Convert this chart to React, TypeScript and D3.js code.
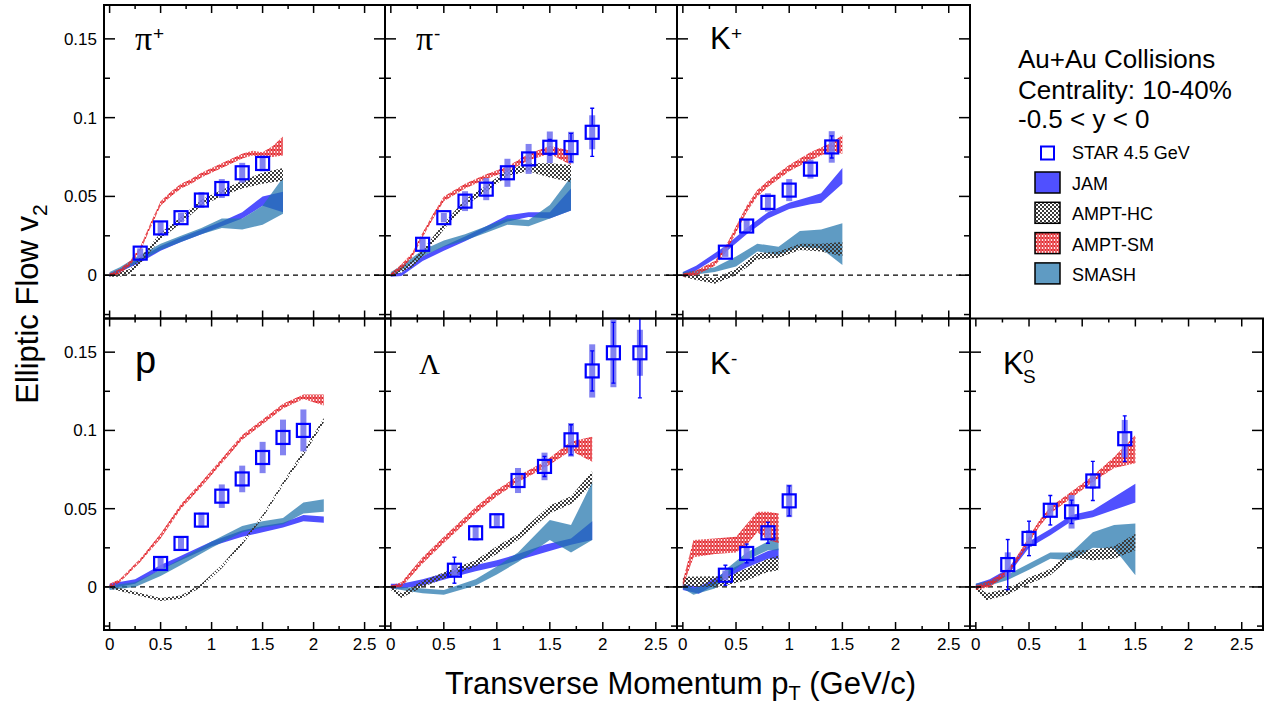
import React from "react";
import * as d3 from "d3";

type Band = [number, number, number][]; // [pT, low, high]

// ---------- STAR 4.5 GeV points ----------
const piPlusX = [0.3, 0.5, 0.7, 0.9, 1.1, 1.3, 1.5];
const piPlusV2 = [0.014, 0.03, 0.0365, 0.0477, 0.055, 0.065, 0.0709];
const piPlusStat = [0.001, 0.001, 0.0012, 0.0015, 0.002, 0.0025, 0.004];
const piPlusSys = [0.003, 0.0037, 0.003, 0.005, 0.006, 0.0063, 0.005];

const piMinusX = [0.3, 0.5, 0.7, 0.9, 1.1, 1.3, 1.5, 1.7, 1.9];
const piMinusV2 = [0.0196, 0.0365, 0.047, 0.0546, 0.065, 0.0738, 0.0812, 0.081, 0.0907];
const piMinusStat = [0.001, 0.0012, 0.0015, 0.002, 0.0025, 0.003, 0.005, 0.009, 0.0153];
const piMinusSys = [0.0037, 0.003, 0.0063, 0.007, 0.0089, 0.0095, 0.01, 0.01, 0.0108];

const kPlusX = [0.4, 0.6, 0.8, 1.0, 1.2, 1.4];
const kPlusV2 = [0.0146, 0.0312, 0.0462, 0.054, 0.0673, 0.0814];
const kPlusStat = [0.001, 0.0015, 0.002, 0.0025, 0.004, 0.007];
const kPlusSys = [0.003, 0.004, 0.0058, 0.007, 0.006, 0.01];

const protonX = [0.5, 0.7, 0.9, 1.1, 1.3, 1.5, 1.7, 1.9];
const protonV2 = [0.015, 0.0278, 0.0427, 0.058, 0.069, 0.0827, 0.0955, 0.1];
const protonStat = [0.0008, 0.001, 0.0012, 0.0015, 0.002, 0.002, 0.0025, 0.003];
const protonSys = [0.0035, 0.0035, 0.0048, 0.0075, 0.0085, 0.01, 0.0114, 0.0134];

const lambdaX = [0.6, 0.8, 1.0, 1.2, 1.45, 1.7, 1.9, 2.1, 2.35];
const lambdaV2 = [0.0107, 0.0346, 0.0423, 0.068, 0.077, 0.094, 0.138, 0.1496, 0.1496];
const lambdaStat = [0.0083, 0.002, 0.002, 0.004, 0.0064, 0.0096, 0.0128, 0.0194, 0.0288];
const lambdaSys = [0.004, 0.005, 0.0046, 0.008, 0.0088, 0.0107, 0.017, 0.022, 0.0147];

const kMinusX = [0.4, 0.6, 0.8, 1.0];
const kMinusV2 = [0.0075, 0.0214, 0.0346, 0.055];
const kMinusStat = [0.0064, 0.006, 0.0067, 0.0096];
const kMinusSys = [0.003, 0.0037, 0.0043, 0.0104];

const kShortX = [0.3, 0.5, 0.7, 0.9, 1.1, 1.4];
const kShortV2 = [0.0143, 0.031, 0.049, 0.048, 0.0677, 0.0947];
const kShortStat = [0.016, 0.011, 0.0094, 0.0075, 0.0125, 0.0146];
const kShortSys = [0.0078, 0.0053, 0.004, 0.0107, 0.005, 0.012];

// ---------- model bands ----------
const piPlusJam: Band = [[0, -0.001, 0.001], [0.1, 0.002, 0.004], [0.3, 0.008, 0.011], [0.5, 0.0155, 0.0185], [0.7, 0.021, 0.024], [0.9, 0.026, 0.029], [1.1, 0.031, 0.034], [1.3, 0.036, 0.04], [1.5, 0.044, 0.05], [1.7, 0.04, 0.053]];
const piPlusSmash: Band = [[0, -0.001, 0.002], [0.1, 0.002, 0.005], [0.3, 0.009, 0.013], [0.5, 0.016, 0.02], [0.7, 0.021, 0.025], [0.9, 0.026, 0.03], [1.1, 0.03, 0.036], [1.3, 0.029, 0.036], [1.5, 0.032, 0.044], [1.7, 0.039, 0.062]];
const piPlusHc: Band = [[0, -0.001, 0.001], [0.1, -0.001, 0.002], [0.2, 0.001, 0.004], [0.3, 0.007, 0.011], [0.5, 0.023, 0.027], [0.7, 0.033, 0.037], [0.9, 0.044, 0.048], [1.1, 0.05, 0.054], [1.3, 0.055, 0.06], [1.5, 0.058, 0.065], [1.7, 0.06, 0.068]];
const piPlusSm: Band = [[0, -0.001, 0.001], [0.1, 0.001, 0.004], [0.2, 0.006, 0.009], [0.3, 0.015, 0.018], [0.4, 0.03, 0.033], [0.5, 0.044, 0.047], [0.6, 0.05, 0.053], [0.7, 0.055, 0.058], [0.8, 0.058, 0.061], [0.9, 0.062, 0.065], [1.0, 0.065, 0.068], [1.1, 0.068, 0.071], [1.2, 0.071, 0.074], [1.3, 0.074, 0.077], [1.4, 0.076, 0.079], [1.5, 0.075, 0.078], [1.6, 0.075, 0.082], [1.7, 0.076, 0.088]];

const piMinusJam: Band = [[0, -0.001, 0.001], [0.1, -0.0005, 0.0015], [0.3, 0.009, 0.012], [0.5, 0.0155, 0.0185], [0.7, 0.0215, 0.0245], [0.9, 0.028, 0.031], [1.1, 0.034, 0.038], [1.3, 0.037, 0.04], [1.5, 0.036, 0.04], [1.7, 0.041, 0.055]];
const piMinusSmash: Band = [[0, -0.001, 0.002], [0.1, 0.003, 0.006], [0.3, 0.012, 0.016], [0.5, 0.018, 0.022], [0.7, 0.022, 0.026], [0.9, 0.027, 0.031], [1.1, 0.032, 0.036], [1.3, 0.031, 0.035], [1.5, 0.036, 0.0445], [1.7, 0.041, 0.0625]];
const piMinusHc: Band = [[0, -0.001, 0.001], [0.1, 0.002, 0.005], [0.2, 0.005, 0.009], [0.3, 0.012, 0.016], [0.5, 0.029, 0.033], [0.7, 0.044, 0.048], [0.9, 0.053, 0.057], [1.1, 0.063, 0.067], [1.3, 0.066, 0.071], [1.5, 0.062, 0.071], [1.7, 0.059, 0.07]];
const piMinusSm: Band = [[0, -0.001, 0.001], [0.1, 0.004, 0.007], [0.2, 0.011, 0.014], [0.3, 0.024, 0.027], [0.4, 0.036, 0.039], [0.5, 0.047, 0.05], [0.7, 0.055, 0.058], [0.9, 0.061, 0.064], [1.1, 0.066, 0.069], [1.3, 0.073, 0.077], [1.5, 0.077, 0.082], [1.7, 0.07, 0.079]];

const kPlusJam: Band = [[0, -0.001, 0.002], [0.125, 0.003, 0.006], [0.4, 0.0145, 0.0185], [0.6, 0.026, 0.03], [0.8, 0.036, 0.04], [1.0, 0.042, 0.046], [1.2, 0.045, 0.05], [1.3, 0.046, 0.052], [1.5, 0.058, 0.068]];
const kPlusSmash: Band = [[0, -0.001, 0.002], [0.125, 0.0005, 0.003], [0.3, 0.002, 0.005], [0.5, 0.0055, 0.0118], [0.7, 0.015, 0.02], [0.9, 0.013, 0.018], [1.1, 0.018, 0.028], [1.3, 0.017, 0.029], [1.5, 0.0065, 0.033]];
const kPlusHc: Band = [[0, -0.001, 0.001], [0.125, -0.003, 0.0], [0.3, -0.0055, -0.002], [0.5, 0.0, 0.004], [0.7, 0.01, 0.014], [0.9, 0.011, 0.015], [1.1, 0.016, 0.02], [1.3, 0.015, 0.02], [1.5, 0.012, 0.021]];
const kPlusSm: Band = [[0, -0.001, 0.001], [0.125, 0.0, 0.003], [0.3, 0.006, 0.009], [0.4, 0.014, 0.018], [0.5, 0.027, 0.031], [0.6, 0.04, 0.044], [0.7, 0.05, 0.054], [0.8, 0.056, 0.06], [1.0, 0.066, 0.07], [1.2, 0.073, 0.078], [1.4, 0.079, 0.084], [1.5, 0.077, 0.089]];

const protonJam: Band = [[0, -0.001, 0.002], [0.25, 0.002, 0.005], [0.5, 0.011, 0.014], [0.7, 0.017, 0.02], [1.0, 0.026, 0.029], [1.3, 0.032, 0.036], [1.5, 0.035, 0.039], [1.7, 0.038, 0.041], [1.9, 0.042, 0.046], [2.1, 0.041, 0.045]];
const protonSmash: Band = [[0, -0.002, 0.001], [0.25, 0.0, 0.003], [0.5, 0.007, 0.011], [0.7, 0.014, 0.018], [1.0, 0.025, 0.029], [1.3, 0.035, 0.039], [1.5, 0.038, 0.042], [1.7, 0.04, 0.044], [1.9, 0.047, 0.054], [2.1, 0.048, 0.056]];
const protonHc: Band = [[0, -0.001, 0.001], [0.25, -0.005, -0.003], [0.5, -0.009, -0.007], [0.7, -0.0075, -0.0055], [0.9, 0.0, 0.002], [1.1, 0.012, 0.014], [1.3, 0.027, 0.029], [1.5, 0.044, 0.046], [1.7, 0.065, 0.067], [1.9, 0.084, 0.087], [2.1, 0.105, 0.108]];
const protonSm: Band = [[0, -0.001, 0.002], [0.1, 0.003, 0.005], [0.3, 0.016, 0.018], [0.5, 0.031, 0.034], [0.7, 0.05, 0.053], [0.9, 0.064, 0.067], [1.1, 0.079, 0.082], [1.3, 0.094, 0.097], [1.5, 0.104, 0.107], [1.7, 0.114, 0.117], [1.9, 0.12, 0.123], [2.1, 0.116, 0.123]];

const lambdaJam: Band = [[0, -0.001, 0.002], [0.1, -0.001, 0.002], [0.3, 0.001, 0.005], [0.6, 0.0065, 0.0105], [0.8, 0.01, 0.014], [1.0, 0.013, 0.017], [1.2, 0.017, 0.021], [1.45, 0.022, 0.027], [1.7, 0.027, 0.031], [1.9, 0.03, 0.042]];
const lambdaSmash: Band = [[0, -0.001, 0.001], [0.1, -0.002, 0.0], [0.3, -0.004, -0.001], [0.5, -0.005, -0.002], [0.8, 0.001, 0.005], [1.0, 0.008, 0.013], [1.2, 0.016, 0.022], [1.5, 0.03, 0.0427], [1.7, 0.022, 0.0395], [1.9, 0.03, 0.067]];
const lambdaHc: Band = [[0, -0.002, 0.001], [0.1, -0.007, -0.004], [0.3, 0.0, 0.004], [0.6, 0.008, 0.012], [0.8, 0.013, 0.017], [1.0, 0.021, 0.026], [1.2, 0.03, 0.034], [1.5, 0.047, 0.052], [1.7, 0.053, 0.058], [1.9, 0.065, 0.074]];
const lambdaSm: Band = [[0, -0.001, 0.001], [0.1, 0.0, 0.003], [0.3, 0.015, 0.019], [0.5, 0.028, 0.032], [0.8, 0.047, 0.051], [1.0, 0.058, 0.062], [1.2, 0.067, 0.071], [1.45, 0.076, 0.08], [1.7, 0.087, 0.093], [1.9, 0.08, 0.096]];

const kMinusJam: Band = [[0, -0.002, 0.0017], [0.15, -0.0043, 0.0], [0.4, 0.0053, 0.0096], [0.6, 0.0124, 0.0166], [0.8, 0.018, 0.023], [0.9, 0.018, 0.0245]];
const kMinusSmash: Band = [[0, -0.001, 0.002], [0.1, -0.005, -0.001], [0.3, -0.001, 0.003], [0.4, 0.006, 0.011], [0.6, 0.017, 0.022], [0.8, 0.0235, 0.029], [0.9, 0.0235, 0.032]];
const kMinusHc: Band = [[0, 0.0, 0.0065], [0.3, 0.0, 0.0068], [0.4, 0.001, 0.0064], [0.6, 0.0043, 0.0118], [0.8, 0.0096, 0.018], [0.9, 0.0107, 0.02]];
const kMinusSm: Band = [[0, 0.0, 0.004], [0.1, 0.019, 0.03], [0.3, 0.021, 0.031], [0.5, 0.022, 0.032], [0.6, 0.027, 0.04], [0.7, 0.035, 0.048], [0.8, 0.03, 0.048], [0.9, 0.028, 0.047]];

const kShortJam: Band = [[0, -0.001, 0.002], [0.13, 0.001, 0.005], [0.3, 0.0075, 0.0115], [0.5, 0.025, 0.029], [0.7, 0.033, 0.037], [0.9, 0.042, 0.046], [1.1, 0.0445, 0.049], [1.5, 0.054, 0.066]];
const kShortSmash: Band = [[0, -0.001, 0.002], [0.13, 0.001, 0.004], [0.3, 0.0045, 0.008], [0.5, 0.011, 0.015], [0.7, 0.018, 0.022], [0.9, 0.017, 0.022], [1.1, 0.025, 0.035], [1.3, 0.0246, 0.0395], [1.5, 0.0075, 0.0406]];
const kShortHc: Band = [[0, -0.002, 0.001], [0.1, -0.0085, -0.004], [0.3, -0.005, -0.001], [0.5, 0.002, 0.006], [0.7, 0.0075, 0.0115], [0.9, 0.019, 0.023], [1.1, 0.017, 0.024], [1.3, 0.018, 0.026], [1.5, 0.0235, 0.034]];
const kShortSm: Band = [[0, -0.002, 0.001], [0.13, 0.0, 0.004], [0.3, 0.008, 0.011], [0.4, 0.017, 0.021], [0.5, 0.028, 0.032], [0.6, 0.039, 0.043], [0.7, 0.047, 0.051], [0.9, 0.057, 0.061], [1.1, 0.067, 0.071], [1.3, 0.076, 0.083], [1.5, 0.079, 0.097]];

// ---------- axes ----------
const xMajor = [0, 0.5, 1, 1.5, 2, 2.5];
const xMinor = [0.25, 0.75, 1.25, 1.75, 2.25];
const yMajor = [0, 0.05, 0.1, 0.15];
const yMinor = [-0.025, 0.025, 0.075, 0.125];
const xDomain = [-0.055, 2.7];
const yDomain = [-0.0275, 0.1715];

const legendHeader = ["Au+Au Collisions", "Centrality: 10-40%", "-0.5 < y < 0"];
const legendModels = ["JAM", "AMPT-HC", "AMPT-SM", "SMASH"];

const colEdges = [104, 385, 677, 970, 1263];
const rowEdges = [5, 318.5, 630];

const SANS = "'Liberation Sans', Arial, Helvetica, sans-serif";
const SERIF = "'Liberation Serif', 'Times New Roman', serif";
const JAM_FILL = "rgb(80,80,255)";
const SMASH_FILL = "rgb(33,116,172)";
const SMASH_OP = 0.72;
const BLUE = "#0000ff";

const panels = [
  { id: "piPlus", row: 0, col: 0, x: piPlusX, v2: piPlusV2, stat: piPlusStat, sys: piPlusSys, jam: piPlusJam, smash: piPlusSmash, hc: piPlusHc, sm: piPlusSm },
  { id: "piMinus", row: 0, col: 1, x: piMinusX, v2: piMinusV2, stat: piMinusStat, sys: piMinusSys, jam: piMinusJam, smash: piMinusSmash, hc: piMinusHc, sm: piMinusSm },
  { id: "kPlus", row: 0, col: 2, x: kPlusX, v2: kPlusV2, stat: kPlusStat, sys: kPlusSys, jam: kPlusJam, smash: kPlusSmash, hc: kPlusHc, sm: kPlusSm },
  { id: "proton", row: 1, col: 0, x: protonX, v2: protonV2, stat: protonStat, sys: protonSys, jam: protonJam, smash: protonSmash, hc: protonHc, sm: protonSm },
  { id: "lambda", row: 1, col: 1, x: lambdaX, v2: lambdaV2, stat: lambdaStat, sys: lambdaSys, jam: lambdaJam, smash: lambdaSmash, hc: lambdaHc, sm: lambdaSm },
  { id: "kMinus", row: 1, col: 2, x: kMinusX, v2: kMinusV2, stat: kMinusStat, sys: kMinusSys, jam: kMinusJam, smash: kMinusSmash, hc: kMinusHc, sm: kMinusSm },
  { id: "kShort", row: 1, col: 3, x: kShortX, v2: kShortV2, stat: kShortStat, sys: kShortSys, jam: kShortJam, smash: kShortSmash, hc: kShortHc, sm: kShortSm },
];

const fmt = (v: number) => String(+v.toFixed(3));

function PanelLabel({ id, left, top }: { id: string; left: number; top: number }) {
  const L = left + 31;
  switch (id) {
    case "piPlus":
    case "piMinus":
      return (
        <g>
          <text x={L} y={top + 45} fontFamily={SERIF} fontSize={34}>π</text>
          <text x={L + 18} y={top + 35} fontFamily={SANS} fontSize={19}>{id === "piPlus" ? "+" : "-"}</text>
        </g>
      );
    case "kPlus":
    case "kMinus": {
      const base = id === "kPlus" ? top + 44 : top + 55.5;
      return (
        <g>
          <text x={L + 2} y={base} fontFamily={SANS} fontSize={31}>K</text>
          <text x={L + 23} y={base - 9} fontFamily={SANS} fontSize={19}>{id === "kPlus" ? "+" : "-"}</text>
        </g>
      );
    }
    case "proton":
      return <text x={L} y={top + 54.5} fontFamily={SANS} fontSize={38}>p</text>;
    case "lambda":
      return <text x={L + 3} y={top + 55.5} fontFamily={SERIF} fontSize={29}>Λ</text>;
    default:
      return (
        <g>
          <text x={L + 2} y={top + 55.5} fontFamily={SANS} fontSize={31}>K</text>
          <text x={L + 22} y={top + 44.5} fontFamily={SANS} fontSize={19}>0</text>
          <text x={L + 22} y={top + 64.5} fontFamily={SANS} fontSize={19}>S</text>
        </g>
      );
  }
}

export default function App() {
  const xScales = [0, 1, 2, 3].map((c) => d3.scaleLinear().domain(xDomain).range([colEdges[c], colEdges[c + 1]]));
  const yScales = [0, 1].map((r) => d3.scaleLinear().domain(yDomain).range([rowEdges[r + 1], rowEdges[r]]));

  return (
    <svg width={1273} height={704} style={{ position: "absolute", left: 0, top: 0, background: "#fff" }}>
      <defs>
        <pattern id="hcPat" width={4} height={4} patternUnits="userSpaceOnUse">
          <rect width={2} height={2} fill="#3a3a3a" />
          <rect x={2} y={2} width={2} height={2} fill="#3a3a3a" />
        </pattern>
        <pattern id="smPat" width={6} height={4} patternUnits="userSpaceOnUse">
          <path d="M0,0.5 L3,3.5 L6,0.5 M0,3.5 L3,0.5 L6,3.5" stroke="#e3242b" strokeWidth={1.1} fill="none" />
        </pattern>
        {panels.map((p) => {
          const xs = xScales[p.col];
          const ys = yScales[p.row];
          return (
            <clipPath id={`clip-${p.id}`} key={p.id}>
              <rect x={xs.range()[0]} y={ys.range()[1]} width={xs.range()[1] - xs.range()[0]} height={ys.range()[0] - ys.range()[1]} />
            </clipPath>
          );
        })}
      </defs>

      {panels.map((p) => {
        const xs = xScales[p.col];
        const ys = yScales[p.row];
        const [left, right] = xs.range();
        const [bottom, top] = ys.range();
        const area = d3
          .area<[number, number, number]>()
          .x((d) => xs(d[0]))
          .y0((d) => ys(d[1]))
          .y1((d) => ys(d[2]));
        const half = 6.5;
        return (
          <g key={p.id}>
            <g clipPath={`url(#clip-${p.id})`}>
              <line x1={left} x2={right} y1={ys(0)} y2={ys(0)} stroke="#000" strokeWidth={1.3} strokeDasharray="5,4" />
              <path d={area(p.jam) || ""} fill={JAM_FILL} />
              <path d={area(p.smash) || ""} fill={SMASH_FILL} fillOpacity={SMASH_OP} />
              <path d={area(p.hc) || ""} fill="url(#hcPat)" />
              <path d={area(p.sm) || ""} fill="url(#smPat)" />
              {p.x.map((xv, i) => {
                const cx = xs(xv);
                const cy = ys(p.v2[i]);
                const yTop = ys(p.v2[i] + p.stat[i]);
                const yBot = ys(p.v2[i] - p.stat[i]);
                const sTop = ys(p.v2[i] + p.sys[i]);
                const sBot = ys(p.v2[i] - p.sys[i]);
                return (
                  <g key={i}>
                    <rect x={cx - 3} y={sTop} width={6} height={sBot - sTop} fill="rgb(118,118,240)" fillOpacity={0.9} />
                    {yTop < cy - half && (
                      <g stroke={BLUE} strokeWidth={1.4}>
                        <line x1={cx} x2={cx} y1={cy - half} y2={yTop} />
                        <line x1={cx - 2} x2={cx + 2} y1={yTop} y2={yTop} />
                        <line x1={cx} x2={cx} y1={cy + half} y2={yBot} />
                        <line x1={cx - 2} x2={cx + 2} y1={yBot} y2={yBot} />
                      </g>
                    )}
                    <rect x={cx - half} y={cy - half} width={half * 2} height={half * 2} fill="none" stroke={BLUE} strokeWidth={2.2} />
                  </g>
                );
              })}
            </g>

            {/* ticks */}
            <g stroke="#000" strokeWidth={1.5}>
              {xMajor.map((t) => (
                <g key={`xM${t}`}>
                  <line x1={xs(t)} x2={xs(t)} y1={bottom} y2={bottom - 8} />
                  <line x1={xs(t)} x2={xs(t)} y1={top} y2={top + 8} />
                </g>
              ))}
              {xMinor.map((t) => (
                <g key={`xm${t}`}>
                  <line x1={xs(t)} x2={xs(t)} y1={bottom} y2={bottom - 4} />
                  <line x1={xs(t)} x2={xs(t)} y1={top} y2={top + 4} />
                </g>
              ))}
              {yMajor.map((t) => (
                <g key={`yM${t}`}>
                  <line x1={left} x2={left + 11} y1={ys(t)} y2={ys(t)} />
                  <line x1={right} x2={right - 11} y1={ys(t)} y2={ys(t)} />
                </g>
              ))}
              {yMinor.map((t) => (
                <g key={`ym${t}`}>
                  <line x1={left} x2={left + 6} y1={ys(t)} y2={ys(t)} />
                  <line x1={right} x2={right - 6} y1={ys(t)} y2={ys(t)} />
                </g>
              ))}
            </g>
            <rect x={left} y={top} width={right - left} height={bottom - top} fill="none" stroke="#000" strokeWidth={2} />

            {p.col === 0 &&
              yMajor.map((t) => (
                <text key={`yl${t}`} x={left - 7} y={ys(t)} dy="0.35em" textAnchor="end" fontFamily={SANS} fontSize={17}>
                  {fmt(t)}
                </text>
              ))}
            {p.row === 1 &&
              xMajor.map((t) => (
                <text key={`xl${t}`} x={xs(t)} y={650} textAnchor="middle" fontFamily={SANS} fontSize={17}>
                  {fmt(t)}
                </text>
              ))}
            <PanelLabel id={p.id} left={left} top={top} />
          </g>
        );
      })}

      {/* axis titles */}
      <text transform="translate(38,304) rotate(-90)" textAnchor="middle" fontFamily={SANS} fontSize={31}>
        Elliptic Flow v<tspan dy={9} fontSize={21}>2</tspan>
      </text>
      <text x={445} y={694} fontFamily={SANS} fontSize={31}>
        Transverse Momentum p<tspan dy={6} fontSize={20}>T</tspan>
        <tspan dy={-6}> (GeV/c)</tspan>
      </text>

      {/* legend */}
      {legendHeader.map((s, i) => (
        <text key={s} x={1018} y={[68, 99, 128][i]} fontFamily={SANS} fontSize={26}>
          {s}
        </text>
      ))}
      <rect x={1041} y={146.5} width={13} height={13} fill="none" stroke={BLUE} strokeWidth={2} />
      <text x={1072} y={159} fontFamily={SANS} fontSize={18}>STAR 4.5 GeV</text>
      {legendModels.map((m, i) => {
        const y0 = 172 + i * 30.3;
        const fill = m === "JAM" ? JAM_FILL : m === "AMPT-HC" ? "url(#hcPat)" : m === "AMPT-SM" ? "url(#smPat)" : SMASH_FILL;
        return (
          <g key={m}>
            <rect x={1035} y={y0} width={25} height={21} fill="#fff" />
            <rect x={1035} y={y0} width={25} height={21} fill={fill} fillOpacity={m === "SMASH" ? SMASH_OP : 1} stroke="#000" strokeWidth={1.5} />
            <text x={1072} y={y0 + 18} fontFamily={SANS} fontSize={18}>
              {m}
            </text>
          </g>
        );
      })}
    </svg>
  );
}
